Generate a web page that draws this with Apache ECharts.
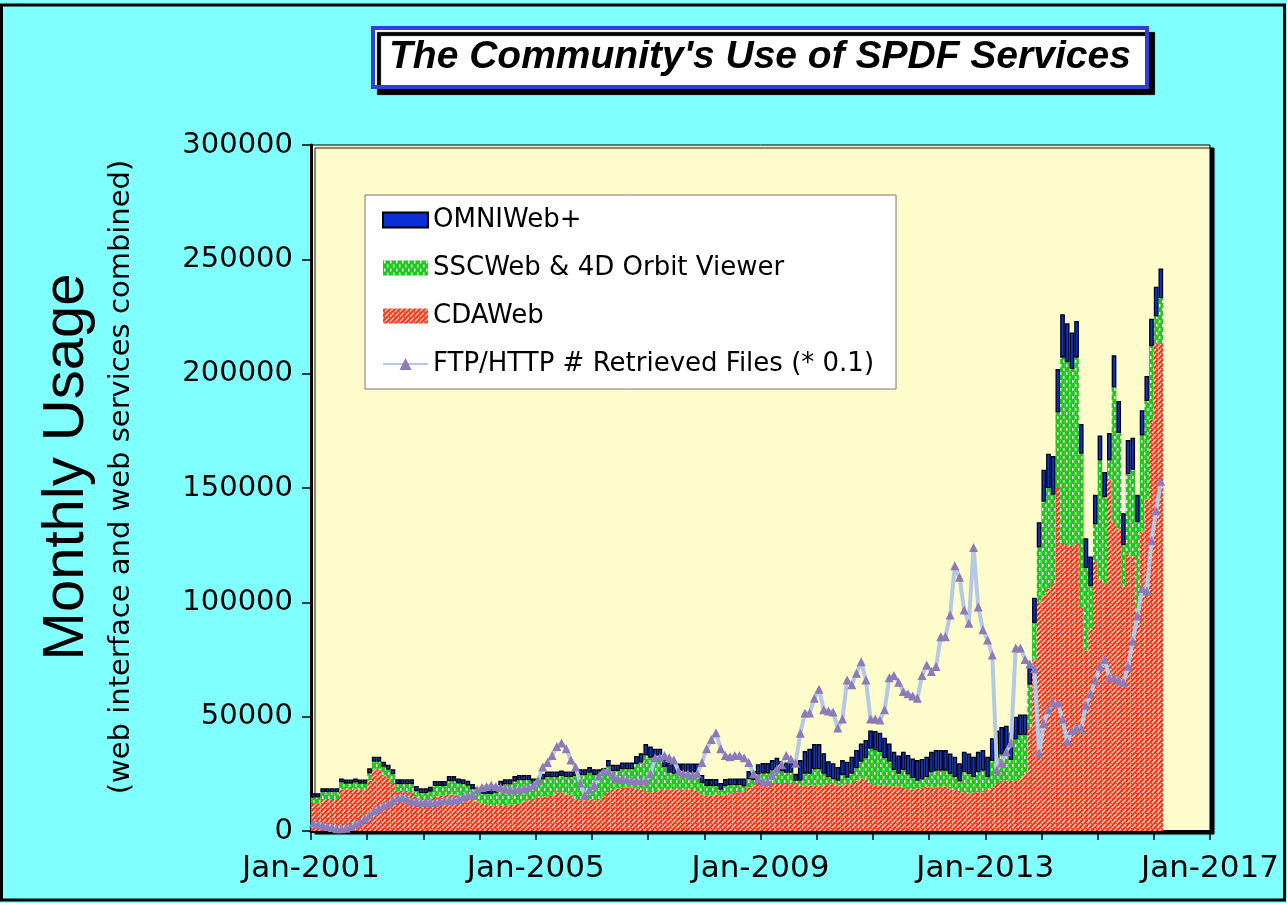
<!DOCTYPE html>
<html><head><meta charset="utf-8">
<script src="https://cdn.jsdelivr.net/npm/echarts@6.0.0/dist/echarts.min.js"></script>
<style>html,body{margin:0;padding:0;background:#80ffff;}#chart{width:1287px;height:903px;}</style>
</head><body><div id="chart"></div>
<script>
// ---- data (monthly, Jan-2001 .. Feb-2016), values in thousands ----
const startYear = 2001;
const monthCount = 192; // Jan-2001 .. Dec-2016 on the axis
const UNIT = 1000;
const monthNames = ['Jan','Feb','Mar','Apr','May','Jun','Jul','Aug','Sep','Oct','Nov','Dec'];
const xTickLabels = ['Jan-2001', 'Jan-2005', 'Jan-2009', 'Jan-2013', 'Jan-2017'];
const yTickLabels = ['0', '50000', '100000', '150000', '200000', '250000', '300000'];

const cdaweb = [
  12,12,13.5,14,14,14,18,18,18,18.5,18,18,
  22,27,27,24.5,23,21,17.5,17.5,17.5,17.5,15,14,
  14,14,15,15.5,15.5,16,16,15.5,15,14.5,13.5,13,
  12,11.5,11,11,11,11,11.5,11.5,12,13,13.5,14,
  14.5,15,15,15.5,17,17,16,15.5,14,13.5,13.5,14,
  13.5,14,15,17,18,18.5,19,19,19,18.5,18,17,
  17,17.5,18,18,18,18,18,18,18,18,17.5,16,
  15.5,15.5,16,15.5,16,16.5,17,17,17.5,19,20,21.5,
  21,21,21,21,21,21,21,21,20,20,20,20,
  20,20,20.5,20.5,20,20,20.5,21,22,23,23,21,
  20,20,20,20,19.5,19.5,19,18,18,18.5,19,19.5,
  19,19,19.5,19.5,18.5,18,17,17,16.5,17,17,17,
  18,19,21,22,22,22,22,23,25,45,75,100,
  103,106,108,150,126,125,125,126,98,79,88,118,
  110,108,154,135,132,107,121,120,91,131,145,180,
  213,213
];
const sscweb = [
  2.7,2.7,3.4,2.9,2.9,2.9,3.2,2.7,2.7,2.7,2.7,2.7,
  3.2,3.3,3.3,3.6,3.8,3.8,2.9,2.9,2.9,2.9,2.5,2.5,
  2.5,3.2,4.7,4.2,4.2,5.8,5.8,5.3,5.4,5.3,4.8,3.8,
  4.2,4.7,5.2,5.7,8.7,9.3,8.8,10.2,10.2,9.2,8.7,6.7,
  6,7.5,8.5,8,6.5,7,7.5,8,10,11,11,11.5,
  11,10.5,10,11.2,8.2,7.7,8,8,8,10.8,12,16,
  15,13.5,13,10,7.5,7,7,7,7,7,7.5,5,
  4.2,4.2,3.7,2.5,3.7,3.5,3,3,2,3.7,2.2,3.2,
  4.2,4.2,5.5,6.5,5,4.5,4.5,1,2,5,5,7,
  7,5,3,2.1,2,4.5,2.8,4,5.4,7.3,8.8,15,
  15.2,14.5,11.8,10.3,7.2,5.5,7.7,6.7,5.2,3.5,3.5,4,
  6.7,7.4,6.9,6.9,6.4,5.5,4.6,8.7,8.4,6.5,8.7,9.4,
  5.5,11.6,11,11.5,12,9,18,19,17,19,16,24,
  41,44,39,33,81,80,77,81,67,36,19,16,
  52,38,8,59,42,18,35,38,44,42,43,32,
  12,20
];
const omniweb = [
  1.8,1.8,1.8,1.8,1.8,1.8,1.8,1.8,1.8,1.8,1.8,1.8,
  2.2,2.2,2.2,2.2,2.2,2.2,2.2,2.2,2.2,2.2,2.2,2.2,
  2.2,2.2,2.2,2.2,2.2,2.2,2.2,2.2,2.2,2.2,2.2,2.2,
  2.3,2.3,2.3,2.3,2.3,2.3,2.3,2.3,2.3,2.3,2.3,2.3,
  2.5,2.5,2.5,2.5,2.5,2.5,2.5,2.5,2.5,2.5,2.5,2.5,
  2.5,2.5,2.5,2.8,2.8,2.8,3,3,3,3.5,4,5,
  5,5,5,5,4.5,4.5,4.5,4.5,4.5,4.5,4.5,3.5,
  3,3,3,3,3,3,3,3,3.5,3.5,4,4.5,
  4.5,4.5,4.5,4.5,4.5,4.5,4.5,3,9,10,11,11,
  11,9,7,7,6,6.5,7,7.5,8,8,8,8,
  8.5,8.5,9,8,8,8,8,8.5,8.5,9,9,9,
  9,9,9,9,9,9,8,9,9,9,9,9,
  9,10,12,12,12,12,10,9,9,8,11,11,
  14,15,17,19,19,17,16,16,13,13,13,13,
  11,11,12,14,14,14,15,14,12,11,11,12,
  13,13
];
// FTP/HTTP retrieved files, already multiplied by 0.1
const ftpFiles = [
  3.5,3,2.5,2,1.5,1,1,1.2,2,3,4,5.5,
  7,9,10,11,12,13.5,14.5,14.5,14,13,13,12.5,
  13,12.5,12.5,13,13.5,13.5,13.5,14,15,15.7,16,18,
  19,19.5,20,19.5,19,18.5,18,18,18.5,18.5,19,20,
  22,28,30,33,37,38.5,36,31,28,21,15.7,18.2,
  20,24,26,26,24,23,23,22.5,22,22,22,22,
  25,32,32,33,32,31,26,25,25,24.5,25,30,
  36,40,43,36,33,32.5,33,33,32,30,25,23,
  21.5,21.5,24.5,27,29,33,31.5,29.6,42.8,51.6,51.6,58,
  62,53,52.5,52,45,49,66,64,69,74,66,49,
  49,48.5,53,67,68,65,61,60,59,58,68,72.6,
  69.7,71.9,85,85,94.5,116,111,96.6,90.8,124,98,88,
  83.5,77,26.7,29.7,34.7,38.5,80,80,75,73,71,34,
  47,53,56,56,49,39,44,45,45,55,60,66,
  72,75,67,67,66,65,72,83,94,106,105,127,
  140,153
];
const seriesNames = ['OMNIWeb+', 'SSCWeb & 4D Orbit Viewer', 'CDAWeb', 'FTP/HTTP # Retrieved Files (* 0.1)'];

const months = Array.from({ length: monthCount }, (_, i) => monthNames[i % 12] + '-' + (startYear + Math.floor(i / 12)));

// ---- fill patterns ----
function redTile() {
  const s = 5;
  const c = document.createElement('canvas'); c.width = s; c.height = s;
  const g = c.getContext('2d');
  g.fillStyle = '#f0300f'; g.fillRect(0, 0, s, s);
  g.strokeStyle = 'rgba(255,235,228,0.9)'; g.lineWidth = 1.3;
  [[-1, s + 1, s + 1, -1], [-1, 1, 1, -1], [s - 1, s + 1, s + 1, s - 1]].forEach(p => {
    g.beginPath(); g.moveTo(p[0], p[1]); g.lineTo(p[2], p[3]); g.stroke();
  });
  g.fillStyle = '#f0300f'; g.fillRect(1, 3, 1, 1);
  return c;
}
function greenTile() {
  const c = document.createElement('canvas'); c.width = 6; c.height = 8;
  const g = c.getContext('2d');
  g.fillStyle = '#1fc81f'; g.fillRect(0, 0, 6, 8);
  g.fillStyle = 'rgba(255,255,255,0.95)';
  g.fillRect(1, 0, 1.4, 3); g.fillRect(4, 4, 1.4, 3);
  return c;
}
const redFill = { image: redTile(), repeat: 'repeat' };
const greenFill = { image: greenTile(), repeat: 'repeat' };

const scaled = arr => arr.map(v => v * UNIT);

const chart = echarts.init(document.getElementById('chart'), null, { renderer: 'canvas' });
chart.setOption({
  animation: false,
  backgroundColor: '#80ffff',
  title: {
    text: "The Community's Use of SPDF Services",
    left: 373, top: 28,
    padding: [10, 16],
    backgroundColor: '#ffffff',
    borderColor: '#2f3fd8', borderWidth: 4,
    shadowColor: '#000', shadowBlur: 1, shadowOffsetX: 6, shadowOffsetY: 6,
    textStyle: { fontFamily: 'Liberation Sans', fontWeight: 'bold', fontStyle: 'italic', fontSize: 39, color: '#000' }
  },
  legend: {
    orient: 'vertical', left: 365, top: 195,
    padding: [12, 22, 12, 17],
    itemGap: 22, itemWidth: 45, itemHeight: 15,
    backgroundColor: '#ffffff', borderColor: '#777', borderWidth: 1,
    textStyle: { fontFamily: 'DejaVu Sans', fontSize: 26, color: '#000' },
    data: [
      { name: seriesNames[0], icon: 'rect' },
      { name: seriesNames[1], icon: 'rect' },
      { name: seriesNames[2], icon: 'rect' },
      { name: seriesNames[3] }
    ]
  },
  grid: {
    left: 311, right: 77, top: 145, bottom: 72,
    show: true, backgroundColor: '#fffccb', borderColor: '#000', borderWidth: 1,
    shadowColor: '#000', shadowBlur: 1, shadowOffsetX: 4, shadowOffsetY: 3
  },
  xAxis: [
    {
      type: 'category', data: months, boundaryGap: true,
      axisLine: { show: false }, axisTick: { show: false }, axisLabel: { show: false },
      splitLine: { show: false }
    },
    {
      type: 'value', min: 0, max: monthCount, interval: 48, position: 'bottom',
      axisLine: { show: true, onZero: false, lineStyle: { color: '#000', width: 3 } },
      axisTick: { show: true, length: 9, lineStyle: { color: '#000', width: 1.5 } },
      minorTick: { show: true, splitNumber: 4, length: 9, lineStyle: { color: '#000', width: 1.5 } },
      splitLine: { show: false },
      axisLabel: {
        margin: 22, fontFamily: 'DejaVu Sans', fontSize: 31, color: '#000',
        formatter: v => xTickLabels[Math.round(v / 48)]
      }
    }
  ],
  yAxis: {
    type: 'value', min: 0, max: 300000, interval: 50000,
    axisLine: { show: true, lineStyle: { color: '#000', width: 3 } },
    axisTick: { show: true, length: 9, lineStyle: { color: '#000', width: 1.5 } },
    splitLine: { show: false },
    axisLabel: {
      margin: 18, fontFamily: 'DejaVu Sans', fontSize: 29, color: '#000',
      formatter: v => yTickLabels[Math.round(v / 50000)]
    }
  },
  graphic: [
    { type: 'rect', shape: { x: 1.5, y: 5, width: 1283, height: 895 }, style: { fill: 'none', stroke: '#000', lineWidth: 3 }, z: 100 },
    { type: 'text', x: 67, y: 467, rotation: Math.PI / 2,
      style: { text: 'Monthly Usage', font: '58px "Liberation Sans"', fill: '#000', textAlign: 'center', textVerticalAlign: 'middle' } },
    { type: 'text', x: 121, y: 477, rotation: Math.PI / 2,
      style: { text: '(web interface and web services combined)', font: '29px "DejaVu Sans"', fill: '#000', textAlign: 'center', textVerticalAlign: 'middle' } }
  ],
  series: [
    { name: seriesNames[2], type: 'bar', stack: 'use', xAxisIndex: 0, data: scaled(cdaweb), barCategoryGap: '0%',
      itemStyle: { color: redFill } },
    { name: seriesNames[1], type: 'bar', stack: 'use', xAxisIndex: 0, data: scaled(sscweb),
      itemStyle: { color: greenFill } },
    { name: seriesNames[0], type: 'bar', stack: 'use', xAxisIndex: 0, data: scaled(omniweb),
      itemStyle: { color: '#0b2fd6', borderColor: '#000', borderWidth: 1.3 } },
    { name: seriesNames[3], type: 'line', xAxisIndex: 0, data: scaled(ftpFiles), z: 5,
      symbol: 'triangle', symbolSize: 9, showAllSymbol: true,
      lineStyle: { color: '#b3c9e6', width: 4 },
      itemStyle: { color: '#8c7bb8' } }
  ]
});
</script>
</body></html>
